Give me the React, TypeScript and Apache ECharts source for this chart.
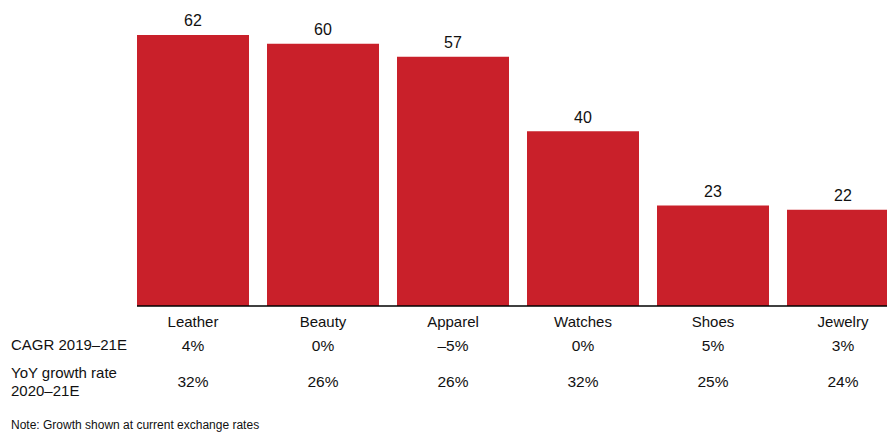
import React, { useEffect, useRef } from "react";
import * as echarts from "echarts";

const categories = ["Leather", "Beauty", "Apparel", "Watches", "Shoes", "Jewelry"];
const values = [62, 60, 57, 40, 23, 22];
const cagr = ["4%", "0%", "\u20135%", "0%", "5%", "3%"];
const yoy = ["32%", "26%", "26%", "32%", "25%", "24%"];
const rowLabels = ["CAGR 2019\u201321E", "YoY growth rate\n2020\u201321E"];
const note = "Note: Growth shown at current exchange rates";

const FONT = "Liberation Sans, Arial, sans-serif";
const RED = "#c9202a";

export default function App() {
  const ref = useRef<HTMLDivElement>(null);
  useEffect(() => {
    if (!ref.current) return;
    const chart = echarts.init(ref.current, null, { renderer: "svg" });
    const rowAxis = (data: string[], offset: number) => ({
      type: "category",
      data,
      position: "bottom",
      offset,
      axisLine: { show: false },
      axisTick: { show: false },
      axisLabel: { margin: 0, fontSize: 15.5, color: "#111", fontFamily: FONT },
    });
    chart.setOption({
      animation: false,
      grid: { left: 128, right: 0, top: 0, bottom: 126, containLabel: false },
      xAxis: [
        {
          type: "category",
          data: categories,
          axisLine: { show: false },
          axisTick: { show: false },
          axisLabel: { margin: 8, fontSize: 15, color: "#111", fontFamily: FONT },
        },
        rowAxis(cagr, 31),
        rowAxis(yoy, 67),
      ],
      yAxis: { type: "value", min: 0, max: 70, show: false, splitLine: { show: false } },
      series: [
        {
          type: "bar",
          data: values,
          barWidth: 112,
          itemStyle: { color: RED },
          label: {
            show: true,
            position: "top",
            distance: 6,
            fontSize: 16,
            color: "#111",
            fontFamily: FONT,
          },
        },
      ],
    });
    const p0 = chart.convertToPixel({ gridIndex: 0 }, [0, 0]) as number[];
    const graphics: any[] = [
      {
        type: "line",
        shape: { x1: p0[0] - 56, y1: p0[1], x2: 920, y2: p0[1] },
        style: { stroke: "#000", lineWidth: 1.5 },
        z: 10,
      },
      {
        type: "text",
        left: 11,
        top: 337,
        style: { text: rowLabels[0], fill: "#111", font: `15px ${FONT}` },
      },
      {
        type: "text",
        left: 11,
        top: 363,
        style: { text: rowLabels[1], fill: "#111", font: `15px ${FONT}`, lineHeight: 18 },
      },
      {
        type: "text",
        left: 11,
        top: 419,
        style: { text: note, fill: "#111", font: `12px ${FONT}` },
      },
    ];
    chart.setOption({ graphic: graphics });
    return () => chart.dispose();
  }, []);
  return (
    <div style={{ position: "absolute", left: 0, top: 0, width: 887, height: 432, overflow: "hidden", background: "#fff" }}>
      <div ref={ref} style={{ width: 908, height: 432 }} />
    </div>
  );
}
